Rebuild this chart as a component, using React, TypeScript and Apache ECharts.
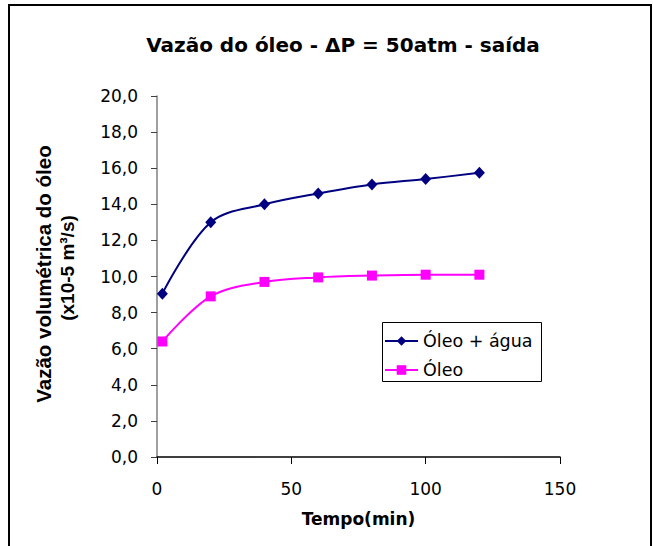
import React, { useEffect, useRef } from "react";
import * as echarts from "echarts";

// Tempo (min) at which each flow rate was measured
const times = [2, 20, 40, 60, 80, 100, 120];
// Vazão volumétrica (x10-5 m³/s)
const oleoAgua = [9.05, 13.0, 14.0, 14.6, 15.1, 15.4, 15.75];
const oleo = [6.4, 8.9, 9.7, 9.95, 10.05, 10.1, 10.1];

const seriesNames = ["Óleo + água", "Óleo"];
const titleText = "Vazão do óleo - ΔP = 50atm - saída";
const yNameLines = ["Vazão volumétrica do óleo", "(x10-5 m³/s)"];
const xName = "Tempo(min)";

const WIDE = "'DejaVu Sans', Verdana, sans-serif";
const NARROW = "'Liberation Sans', Arial, sans-serif";

export default function App() {
  const ref = useRef<HTMLDivElement>(null);

  useEffect(() => {
    if (!ref.current) return;
    const chart = echarts.init(ref.current, undefined, { renderer: "svg" });

    const option = {
      animation: false,
      backgroundColor: "#ffffff",
      textStyle: { fontFamily: WIDE },
      grid: { left: 157, top: 96, right: 93, bottom: 89, containLabel: false },
      xAxis: {
        type: "value",
        min: 0,
        max: 150,
        interval: 50,
        name: xName,
        nameLocation: "middle",
        nameGap: 53,
        nameTextStyle: { fontFamily: WIDE, fontSize: 17, fontWeight: "bold", color: "#000" },
        axisLine: { show: true, lineStyle: { color: "#000", width: 1.5 } },
        axisTick: { show: true, length: 7, lineStyle: { color: "#000" } },
        axisLabel: { margin: 23, fontFamily: WIDE, fontSize: 17, color: "#000" },
        splitLine: { show: false },
      },
      yAxis: {
        type: "value",
        min: 0,
        max: 20,
        interval: 2,
        axisLine: { show: true, lineStyle: { color: "#808080", width: 1.5 } },
        axisTick: { show: true, length: 6, lineStyle: { color: "#404040" } },
        axisLabel: {
          margin: 19,
          fontFamily: WIDE,
          fontSize: 17,
          color: "#000",
          formatter: (v: number) => v.toFixed(1).replace(".", ","),
        },
        splitLine: { show: false },
      },
      legend: {
        orient: "vertical",
        left: 384,
        top: 332,
        padding: 0,
        itemWidth: 33,
        itemHeight: 12,
        itemGap: 11,
        z: 10,
        data: seriesNames,
        textStyle: { fontFamily: WIDE, fontSize: 17.5, color: "#000", lineHeight: 17 },
      },
      series: [
        {
          type: "line",
          name: seriesNames[0],
          data: times.map((t, i) => [t, oleoAgua[i]]),
          smooth: 0.35,
          symbol: "diamond",
          symbolSize: [11, 12],
          lineStyle: { color: "#000080", width: 2 },
          itemStyle: { color: "#000080" },
        },
        {
          type: "line",
          name: seriesNames[1],
          data: times.map((t, i) => [t, oleo[i]]),
          smooth: 0.35,
          symbol: "rect",
          symbolSize: 10,
          lineStyle: { color: "#ff00ff", width: 2 },
          itemStyle: { color: "#ff00ff" },
        },
      ],
      graphic: [
        {
          type: "rect",
          z: 0,
          silent: true,
          shape: { x: 9, y: 5, width: 642, height: 600 },
          style: { fill: "none", stroke: "#000", lineWidth: 2 },
        },
        {
          type: "rect",
          z: 1,
          silent: true,
          shape: { x: 382.5, y: 322.5, width: 159, height: 59 },
          style: { fill: "#fff", stroke: "#000", lineWidth: 1 },
        },
        {
          type: "text",
          x: 343,
          y: 45,
          style: {
            text: titleText,
            fontFamily: WIDE,
            fontSize: 20,
            fontWeight: "bold",
            fill: "#000",
            textAlign: "center",
            textVerticalAlign: "middle",
          },
        },
        {
          type: "text",
          x: 43,
          y: 274,
          rotation: Math.PI / 2,
          style: {
            text: yNameLines[0],
            fontFamily: NARROW,
            fontSize: 20.5,
            fontWeight: "bold",
            fill: "#000",
            textAlign: "center",
            textVerticalAlign: "middle",
          },
        },
        {
          type: "text",
          x: 67,
          y: 268,
          rotation: Math.PI / 2,
          style: {
            text: yNameLines[1],
            fontFamily: NARROW,
            fontSize: 19,
            fontWeight: "bold",
            fill: "#000",
            textAlign: "center",
            textVerticalAlign: "middle",
          },
        },
      ],
    };

    chart.setOption(option);
    return () => chart.dispose();
  }, []);

  return (
    <div
      ref={ref}
      style={{ position: "fixed", left: 0, top: 0, width: 653, height: 546 }}
    />
  );
}
